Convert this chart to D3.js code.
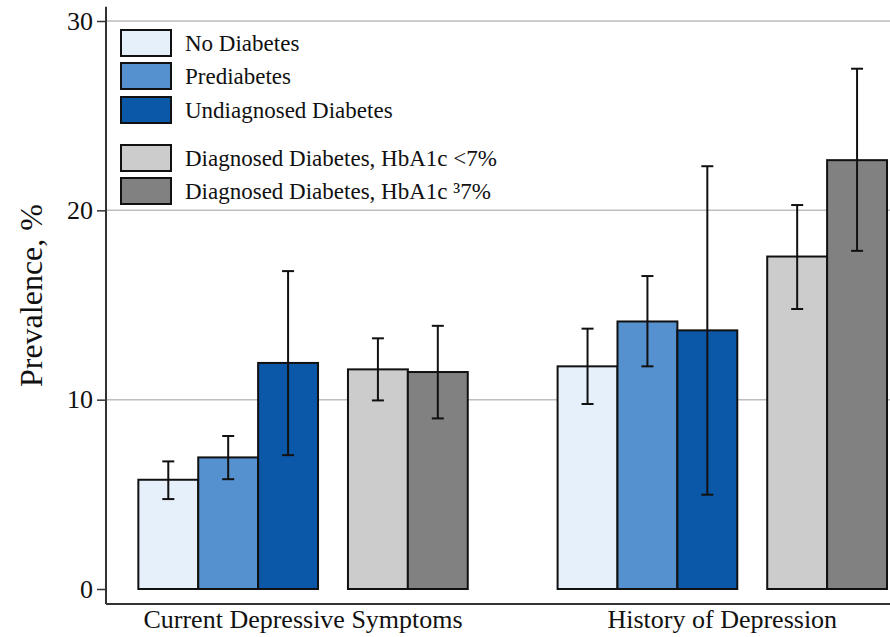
<!DOCTYPE html>
<html>
<head>
<meta charset="utf-8">
<script src="https://cdn.jsdelivr.net/npm/d3@7"></script>
<style>
  body { margin: 0; background: #fff; }
  text { font-family: "Liberation Serif", "Times New Roman", serif; fill: #111; }
</style>
</head>
<body>
<div class="canvas"></div>
<script>
// data
const groups = ['Current Depressive Symptoms', 'History of Depression'];
const series = ['No Diabetes', 'Prediabetes', 'Undiagnosed Diabetes',
                'Diagnosed Diabetes, HbA1c <7%', 'Diagnosed Diabetes, HbA1c \u00b37%'];
const colors = ['#e5f0fa', '#5590cf', '#0b57a8', '#cccccc', '#818181'];

const values = [[5.77, 6.95, 11.94, 11.6, 11.46],
                [11.76, 14.13, 13.66, 17.56, 22.65]];
const lower  = [[4.75, 5.80, 7.07, 9.96, 9.01],
                [9.77, 11.76, 4.98, 14.79, 17.86]];
const upper  = [[6.74, 8.08, 16.79, 13.24, 13.9],
                [13.75, 16.53, 22.33, 20.28, 27.48]];
const yTicks = [0, 10, 20, 30];

// slot layout: three blue bars, half-bar gap, two gray bars; groups 7 slots apart
const slot = [0, 1, 2, 3.5, 4.5];
const groupStep = 7;

const width = 890, height = 637;
const serif = '"Liberation Serif", "Times New Roman", serif';

const svg = d3.select('.canvas')
    .append('svg')
    .attr('width', width)
    .attr('height', height);

const x = d3.scaleLinear().domain([-0.54, 12.55]).range([106, 890]);
const y = d3.scaleLinear().domain([0, 30]).range([589, 21]);

// gridlines
svg.append('g')
    .selectAll('line')
    .data(yTicks.filter(d => d > 0))
    .join('line')
    .attr('x1', x(-0.54)).attr('x2', width)
    .attr('y1', d => y(d)).attr('y2', d => y(d))
    .attr('stroke', '#bdbdbd')
    .attr('stroke-width', 1.5);

// y axis
const yAxis = svg.append('g')
    .attr('transform', `translate(${x(-0.54)},0)`)
    .call(d3.axisLeft(y).tickValues(yTicks).tickSize(9).tickPadding(4))
    .attr('font-family', serif)
    .attr('font-size', 26);
yAxis.select('.domain').remove();
yAxis.selectAll('.tick line').attr('stroke', '#333').attr('stroke-width', 1.5);
yAxis.selectAll('.tick text').attr('fill', '#111');

// axis frame lines
svg.append('line')
    .attr('x1', x(-0.54)).attr('x2', x(-0.54))
    .attr('y1', y(30.75)).attr('y2', y(-0.79))
    .attr('stroke', '#333').attr('stroke-width', 2);
svg.append('line')
    .attr('x1', x(-0.54)).attr('x2', width)
    .attr('y1', y(-0.79)).attr('y2', y(-0.79))
    .attr('stroke', '#333').attr('stroke-width', 2);

// bars
const bars = [];
groups.forEach((g, gi) => {
    series.forEach((s, si) => {
        bars.push({ g: gi, s: si, v: values[gi][si], lo: lower[gi][si], hi: upper[gi][si],
                    u: gi * groupStep + slot[si] });
    });
});

const barW = x(1) - x(0);

svg.append('g')
    .selectAll('rect')
    .data(bars)
    .join('rect')
    .attr('x', d => x(d.u))
    .attr('y', d => y(d.v))
    .attr('width', barW)
    .attr('height', d => y(0) - y(d.v))
    .attr('fill', d => colors[d.s])
    .attr('stroke', '#111')
    .attr('stroke-width', 2);

// error bars
const err = svg.append('g')
    .attr('stroke', '#111')
    .attr('stroke-width', 2)
    .selectAll('g')
    .data(bars)
    .join('g')
    .attr('transform', d => `translate(${x(d.u + 0.5)},0)`);
err.append('line')
    .attr('y1', d => y(d.lo)).attr('y2', d => y(d.hi));
err.append('line')
    .attr('x1', -6).attr('x2', 6)
    .attr('y1', d => y(d.hi)).attr('y2', d => y(d.hi));
err.append('line')
    .attr('x1', -6).attr('x2', 6)
    .attr('y1', d => y(d.lo)).attr('y2', d => y(d.lo));

// group labels
svg.append('g')
    .selectAll('text')
    .data(groups)
    .join('text')
    .attr('x', (d, i) => x(i * groupStep + 2.75))
    .attr('y', 628)
    .attr('text-anchor', 'middle')
    .style('font-size', '26px')
    .text(d => d);

// y title
svg.append('text')
    .attr('transform', `translate(42,${y(15.5)}) rotate(-90)`)
    .attr('text-anchor', 'middle')
    .style('font-size', '32px')
    .text('Prevalence, %');

// legend
const legendY = [30, 63, 97, 145, 178];
const legend = svg.append('g')
    .selectAll('g')
    .data(series)
    .join('g')
    .attr('transform', (d, i) => `translate(121,${legendY[i]})`);
legend.append('rect')
    .attr('width', 50).attr('height', 26)
    .attr('fill', (d, i) => colors[i])
    .attr('stroke', '#111')
    .attr('stroke-width', 2);
legend.append('text')
    .attr('x', 64)
    .attr('y', 21)
    .style('font-size', '23px')
    .text(d => d);
</script>
</body>
</html>
